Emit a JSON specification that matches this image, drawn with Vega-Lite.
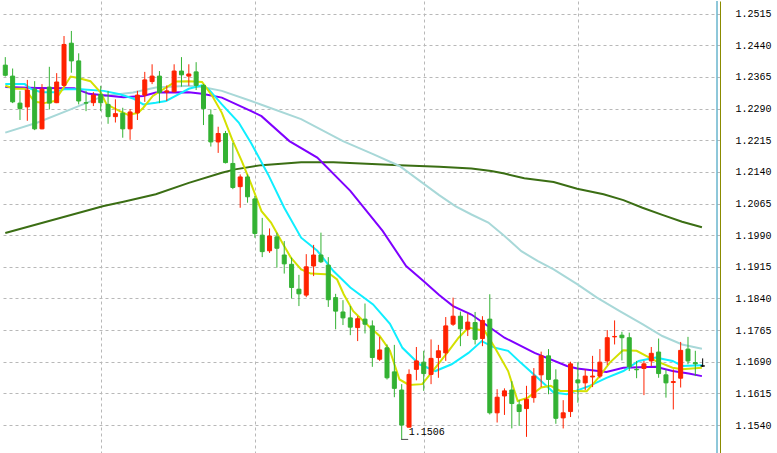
{
  "$schema": "https://vega.github.io/schema/vega-lite/v6.json",
  "width": 720,
  "height": 453,
  "padding": 0,
  "background": "#ffffff",
  "config": {"view": {"stroke": null}},
  "datasets": {
    "candles": [
      {"i":0,"o":1.2393,"h":1.2412,"l":1.2366,"c":1.2369},
      {"i":1,"o":1.2367,"h":1.2385,"l":1.2303,"c":1.2306},
      {"i":2,"o":1.2303,"h":1.2332,"l":1.2263,"c":1.2290},
      {"i":3,"o":1.2294,"h":1.2358,"l":1.2261,"c":1.2334},
      {"i":4,"o":1.2336,"h":1.2355,"l":1.2239,"c":1.2242},
      {"i":5,"o":1.2242,"h":1.2348,"l":1.2241,"c":1.2336},
      {"i":6,"o":1.2341,"h":1.2389,"l":1.2288,"c":1.2303},
      {"i":7,"o":1.2304,"h":1.2374,"l":1.2303,"c":1.2353},
      {"i":8,"o":1.2345,"h":1.2462,"l":1.2342,"c":1.2442},
      {"i":9,"o":1.2445,"h":1.2474,"l":1.2375,"c":1.2403},
      {"i":10,"o":1.2403,"h":1.2421,"l":1.2300,"c":1.2308},
      {"i":11,"o":1.2304,"h":1.2332,"l":1.2284,"c":1.2303},
      {"i":12,"o":1.2304,"h":1.2329,"l":1.2296,"c":1.2322},
      {"i":13,"o":1.2324,"h":1.2344,"l":1.2284,"c":1.2304},
      {"i":14,"o":1.2300,"h":1.2332,"l":1.2254,"c":1.2271},
      {"i":15,"o":1.2271,"h":1.2312,"l":1.2257,"c":1.2278},
      {"i":16,"o":1.2279,"h":1.2292,"l":1.2221,"c":1.2242},
      {"i":17,"o":1.2242,"h":1.2289,"l":1.2216,"c":1.2282},
      {"i":18,"o":1.2280,"h":1.2332,"l":1.2263,"c":1.2322},
      {"i":19,"o":1.2322,"h":1.2377,"l":1.2306,"c":1.2358},
      {"i":20,"o":1.2354,"h":1.2395,"l":1.2348,"c":1.2367},
      {"i":21,"o":1.2367,"h":1.2379,"l":1.2303,"c":1.2328},
      {"i":22,"o":1.2329,"h":1.2345,"l":1.2308,"c":1.2332},
      {"i":23,"o":1.2330,"h":1.2395,"l":1.2328,"c":1.2379},
      {"i":24,"o":1.2379,"h":1.2412,"l":1.2342,"c":1.2370},
      {"i":25,"o":1.2367,"h":1.2395,"l":1.2344,"c":1.2372},
      {"i":26,"o":1.2377,"h":1.2400,"l":1.2334,"c":1.2345},
      {"i":27,"o":1.2345,"h":1.2348,"l":1.2251,"c":1.2290},
      {"i":28,"o":1.2275,"h":1.2288,"l":1.2200,"c":1.2211},
      {"i":29,"o":1.2211,"h":1.2247,"l":1.2185,"c":1.2231},
      {"i":30,"o":1.2231,"h":1.2237,"l":1.2160,"c":1.2162},
      {"i":31,"o":1.2160,"h":1.2209,"l":1.2099,"c":1.2103},
      {"i":32,"o":1.2105,"h":1.2134,"l":1.2055,"c":1.2128},
      {"i":33,"o":1.2128,"h":1.2134,"l":1.2067,"c":1.2081},
      {"i":34,"o":1.2076,"h":1.2083,"l":1.1984,"c":1.1994},
      {"i":35,"o":1.1990,"h":1.2031,"l":1.1938,"c":1.1951},
      {"i":36,"o":1.1953,"h":1.2006,"l":1.1948,"c":1.1988},
      {"i":37,"o":1.1986,"h":1.1996,"l":1.1913,"c":1.1959},
      {"i":38,"o":1.1943,"h":1.1976,"l":1.1899,"c":1.1922},
      {"i":39,"o":1.1921,"h":1.1937,"l":1.1840,"c":1.1866},
      {"i":40,"o":1.1862,"h":1.1896,"l":1.1822,"c":1.1851},
      {"i":41,"o":1.1848,"h":1.1945,"l":1.1843,"c":1.1915},
      {"i":42,"o":1.1917,"h":1.1967,"l":1.1893,"c":1.1943},
      {"i":43,"o":1.1943,"h":1.1996,"l":1.1924,"c":1.1927},
      {"i":44,"o":1.1919,"h":1.1938,"l":1.1820,"c":1.1837},
      {"i":45,"o":1.1842,"h":1.1851,"l":1.1767,"c":1.1810},
      {"i":46,"o":1.1808,"h":1.1836,"l":1.1777,"c":1.1794},
      {"i":47,"o":1.1794,"h":1.1822,"l":1.1753,"c":1.1772},
      {"i":48,"o":1.1771,"h":1.1798,"l":1.1739,"c":1.1792},
      {"i":49,"o":1.1791,"h":1.1828,"l":1.1757,"c":1.1779},
      {"i":50,"o":1.1775,"h":1.1788,"l":1.1678,"c":1.1700},
      {"i":51,"o":1.1696,"h":1.1749,"l":1.1692,"c":1.1718},
      {"i":52,"o":1.1723,"h":1.1731,"l":1.1648,"c":1.1652},
      {"i":53,"o":1.1666,"h":1.1730,"l":1.1606,"c":1.1627},
      {"i":54,"o":1.1623,"h":1.1637,"l":1.1506,"c":1.1540},
      {"i":55,"o":1.1535,"h":1.1672,"l":1.1534,"c":1.1660},
      {"i":56,"o":1.1672,"h":1.1725,"l":1.1646,"c":1.1692},
      {"i":57,"o":1.1689,"h":1.1716,"l":1.1621,"c":1.1662},
      {"i":58,"o":1.1660,"h":1.1743,"l":1.1637,"c":1.1698},
      {"i":59,"o":1.1700,"h":1.1730,"l":1.1652,"c":1.1716},
      {"i":60,"o":1.1711,"h":1.1796,"l":1.1692,"c":1.1775},
      {"i":61,"o":1.1779,"h":1.1842,"l":1.1775,"c":1.1798},
      {"i":62,"o":1.1798,"h":1.1809,"l":1.1727,"c":1.1768},
      {"i":63,"o":1.1767,"h":1.1804,"l":1.1751,"c":1.1784},
      {"i":64,"o":1.1783,"h":1.1808,"l":1.1731,"c":1.1743},
      {"i":65,"o":1.1745,"h":1.1798,"l":1.1727,"c":1.1788},
      {"i":66,"o":1.1791,"h":1.1850,"l":1.1565,"c":1.1569},
      {"i":67,"o":1.1569,"h":1.1625,"l":1.1546,"c":1.1606},
      {"i":68,"o":1.1609,"h":1.1627,"l":1.1564,"c":1.1621},
      {"i":69,"o":1.1623,"h":1.1644,"l":1.1532,"c":1.1591},
      {"i":70,"o":1.1588,"h":1.1599,"l":1.1538,"c":1.1572},
      {"i":71,"o":1.1579,"h":1.1633,"l":1.1512,"c":1.1601},
      {"i":72,"o":1.1605,"h":1.1675,"l":1.1593,"c":1.1656},
      {"i":73,"o":1.1659,"h":1.1714,"l":1.1630,"c":1.1704},
      {"i":74,"o":1.1704,"h":1.1720,"l":1.1613,"c":1.1648},
      {"i":75,"o":1.1647,"h":1.1672,"l":1.1543,"c":1.1556},
      {"i":76,"o":1.1557,"h":1.1599,"l":1.1532,"c":1.1569},
      {"i":77,"o":1.1572,"h":1.1690,"l":1.1559,"c":1.1685},
      {"i":78,"o":1.1647,"h":1.1689,"l":1.1593,"c":1.1640},
      {"i":79,"o":1.1640,"h":1.1672,"l":1.1623,"c":1.1656},
      {"i":80,"o":1.1654,"h":1.1704,"l":1.1630,"c":1.1656},
      {"i":81,"o":1.1656,"h":1.1720,"l":1.1651,"c":1.1689},
      {"i":82,"o":1.1692,"h":1.1765,"l":1.1682,"c":1.1747},
      {"i":83,"o":1.1749,"h":1.1788,"l":1.1731,"c":1.1750},
      {"i":84,"o":1.1753,"h":1.1761,"l":1.1693,"c":1.1747},
      {"i":85,"o":1.1747,"h":1.1759,"l":1.1668,"c":1.1678},
      {"i":86,"o":1.1672,"h":1.1692,"l":1.1651,"c":1.1671},
      {"i":87,"o":1.1674,"h":1.1692,"l":1.1611,"c":1.1685},
      {"i":88,"o":1.1692,"h":1.1725,"l":1.1680,"c":1.1710},
      {"i":89,"o":1.1713,"h":1.1745,"l":1.1652,"c":1.1662},
      {"i":90,"o":1.1659,"h":1.1672,"l":1.1605,"c":1.1640},
      {"i":91,"o":1.1641,"h":1.1672,"l":1.1577,"c":1.1643},
      {"i":92,"o":1.1651,"h":1.1737,"l":1.1629,"c":1.1717},
      {"i":93,"o":1.1720,"h":1.1749,"l":1.1684,"c":1.1692},
      {"i":94,"o":1.1688,"h":1.1716,"l":1.1656,"c":1.1685},
      {"i":95,"o":1.1680,"h":1.1698,"l":1.1678,"c":1.1680}
    ],
    "lines": [
      {"s":"MA200","i":0,"v":1.1995},{"s":"MA200","i":13.4,"v":1.2059},{"s":"MA200","i":16.1,"v":1.2069},{"s":"MA200","i":20.5,"v":1.2087},{"s":"MA200","i":25,"v":1.2114},{"s":"MA200","i":29.5,"v":1.2138},{"s":"MA200","i":31.3,"v":1.2146},{"s":"MA200","i":34.9,"v":1.2156},{"s":"MA200","i":40.3,"v":1.2163},{"s":"MA200","i":44.7,"v":1.2163},{"s":"MA200","i":49.2,"v":1.2159},{"s":"MA200","i":53.7,"v":1.2156},{"s":"MA200","i":59.1,"v":1.2152},{"s":"MA200","i":63.5,"v":1.2148},{"s":"MA200","i":66.2,"v":1.2142},{"s":"MA200","i":68,"v":1.2136},{"s":"MA200","i":70.7,"v":1.2125},{"s":"MA200","i":74.7,"v":1.2116},{"s":"MA200","i":77.9,"v":1.2100},{"s":"MA200","i":81.5,"v":1.2087},{"s":"MA200","i":84.2,"v":1.2073},{"s":"MA200","i":86.8,"v":1.2055},{"s":"MA200","i":89.5,"v":1.2038},{"s":"MA200","i":92.2,"v":1.2022},{"s":"MA200","i":94.9,"v":1.2009},
      {"s":"MA100","i":0,"v":1.2233},{"s":"MA100","i":4.4,"v":1.2257},{"s":"MA100","i":8.9,"v":1.2288},{"s":"MA100","i":13.4,"v":1.2320},{"s":"MA100","i":17.4,"v":1.2328},{"s":"MA100","i":20.5,"v":1.2340},{"s":"MA100","i":25,"v":1.2344},{"s":"MA100","i":27.2,"v":1.2340},{"s":"MA100","i":29.5,"v":1.2332},{"s":"MA100","i":33.5,"v":1.2308},{"s":"MA100","i":34.9,"v":1.2299},{"s":"MA100","i":40.3,"v":1.2265},{"s":"MA100","i":46,"v":1.2213},{"s":"MA100","i":50.1,"v":1.2182},{"s":"MA100","i":53.7,"v":1.2154},{"s":"MA100","i":59.1,"v":1.2085},{"s":"MA100","i":61.3,"v":1.2059},{"s":"MA100","i":63.5,"v":1.2039},{"s":"MA100","i":65.8,"v":1.2020},{"s":"MA100","i":68,"v":1.1988},{"s":"MA100","i":70.3,"v":1.1952},{"s":"MA100","i":72.5,"v":1.1929},{"s":"MA100","i":74.7,"v":1.1909},{"s":"MA100","i":77.9,"v":1.1874},{"s":"MA100","i":80.6,"v":1.1842},{"s":"MA100","i":83.7,"v":1.1810},{"s":"MA100","i":86.8,"v":1.1779},{"s":"MA100","i":89.5,"v":1.1751},{"s":"MA100","i":92.2,"v":1.1731},{"s":"MA100","i":94.9,"v":1.1721},
      {"s":"MA50","i":0,"v":1.2341},{"s":"MA50","i":4.4,"v":1.2339},{"s":"MA50","i":9.4,"v":1.2338},{"s":"MA50","i":11.4,"v":1.2325},{"s":"MA50","i":16.1,"v":1.2317},{"s":"MA50","i":18.8,"v":1.2320},{"s":"MA50","i":20.5,"v":1.2328},{"s":"MA50","i":25,"v":1.2329},{"s":"MA50","i":26.8,"v":1.2325},{"s":"MA50","i":29.5,"v":1.2316},{"s":"MA50","i":33.5,"v":1.2284},{"s":"MA50","i":34.9,"v":1.2272},{"s":"MA50","i":38.7,"v":1.2213},{"s":"MA50","i":42.5,"v":1.2174},{"s":"MA50","i":47,"v":1.2095},{"s":"MA50","i":51.4,"v":1.2000},{"s":"MA50","i":54.6,"v":1.1917},{"s":"MA50","i":57,"v":1.1881},{"s":"MA50","i":59.1,"v":1.1848},{"s":"MA50","i":61,"v":1.1822},{"s":"MA50","i":63.5,"v":1.1802},{"s":"MA50","i":66.7,"v":1.1763},{"s":"MA50","i":68,"v":1.1747},{"s":"MA50","i":72.1,"v":1.1711},{"s":"MA50","i":76.5,"v":1.1680},{"s":"MA50","i":77.9,"v":1.1674},{"s":"MA50","i":81.9,"v":1.1666},{"s":"MA50","i":84.2,"v":1.1676},{"s":"MA50","i":88.6,"v":1.1678},{"s":"MA50","i":90.9,"v":1.1668},{"s":"MA50","i":93.1,"v":1.1662},{"s":"MA50","i":94.9,"v":1.1656},
      {"s":"MA10","i":0,"v":1.2348},{"s":"MA10","i":2.65,"v":1.2348},{"s":"MA10","i":3.55,"v":1.2336},{"s":"MA10","i":4.9,"v":1.2329},{"s":"MA10","i":6.7,"v":1.2329},{"s":"MA10","i":8,"v":1.2336},{"s":"MA10","i":10.3,"v":1.2336},{"s":"MA10","i":13.4,"v":1.2332},{"s":"MA10","i":15.6,"v":1.2324},{"s":"MA10","i":17.4,"v":1.2314},{"s":"MA10","i":18.8,"v":1.2300},{"s":"MA10","i":20.5,"v":1.2304},{"s":"MA10","i":21.9,"v":1.2308},{"s":"MA10","i":23.2,"v":1.2320},{"s":"MA10","i":25,"v":1.2337},{"s":"MA10","i":26.8,"v":1.2345},{"s":"MA10","i":27.7,"v":1.2336},{"s":"MA10","i":29.5,"v":1.2300},{"s":"MA10","i":31.8,"v":1.2257},{"s":"MA10","i":33.5,"v":1.2208},{"s":"MA10","i":35.8,"v":1.2134},{"s":"MA10","i":38,"v":1.2055},{"s":"MA10","i":40.3,"v":1.1984},{"s":"MA10","i":42.5,"v":1.1953},{"s":"MA10","i":44.7,"v":1.1905},{"s":"MA10","i":47,"v":1.1866},{"s":"MA10","i":50.1,"v":1.1826},{"s":"MA10","i":52.4,"v":1.1780},{"s":"MA10","i":54.1,"v":1.1723},{"s":"MA10","i":56.4,"v":1.1684},{"s":"MA10","i":58.6,"v":1.1668},{"s":"MA10","i":60.8,"v":1.1684},{"s":"MA10","i":63.1,"v":1.1711},{"s":"MA10","i":64.9,"v":1.1739},{"s":"MA10","i":66.7,"v":1.1723},{"s":"MA10","i":68.5,"v":1.1716},{"s":"MA10","i":70.2,"v":1.1688},{"s":"MA10","i":72.5,"v":1.1652},{"s":"MA10","i":74.7,"v":1.1617},{"s":"MA10","i":76.5,"v":1.1613},{"s":"MA10","i":79.6,"v":1.1633},{"s":"MA10","i":81.9,"v":1.1652},{"s":"MA10","i":84.2,"v":1.1668},{"s":"MA10","i":86.3,"v":1.1692},{"s":"MA10","i":88.6,"v":1.1700},{"s":"MA10","i":90.9,"v":1.1692},{"s":"MA10","i":92.2,"v":1.1680},{"s":"MA10","i":94.9,"v":1.1682},
      {"s":"MA5","i":0,"v":1.2344},{"s":"MA5","i":1.3,"v":1.2337},{"s":"MA5","i":2.65,"v":1.2337},{"s":"MA5","i":4,"v":1.2306},{"s":"MA5","i":5.3,"v":1.2303},{"s":"MA5","i":6.7,"v":1.2308},{"s":"MA5","i":7.8,"v":1.2336},{"s":"MA5","i":8.9,"v":1.2366},{"s":"MA5","i":9.8,"v":1.2363},{"s":"MA5","i":11.6,"v":1.2355},{"s":"MA5","i":13,"v":1.2328},{"s":"MA5","i":13.8,"v":1.2300},{"s":"MA5","i":15.6,"v":1.2284},{"s":"MA5","i":16.75,"v":1.2275},{"s":"MA5","i":18.1,"v":1.2280},{"s":"MA5","i":18.8,"v":1.2292},{"s":"MA5","i":20.1,"v":1.2320},{"s":"MA5","i":21.9,"v":1.2340},{"s":"MA5","i":23.2,"v":1.2354},{"s":"MA5","i":25,"v":1.2355},{"s":"MA5","i":26.8,"v":1.2353},{"s":"MA5","i":28.2,"v":1.2320},{"s":"MA5","i":29.5,"v":1.2280},{"s":"MA5","i":30.9,"v":1.2217},{"s":"MA5","i":32.2,"v":1.2166},{"s":"MA5","i":33.5,"v":1.2111},{"s":"MA5","i":34.9,"v":1.2047},{"s":"MA5","i":36.2,"v":1.2020},{"s":"MA5","i":37.6,"v":1.1976},{"s":"MA5","i":38.9,"v":1.1937},{"s":"MA5","i":40.3,"v":1.1909},{"s":"MA5","i":41.6,"v":1.1899},{"s":"MA5","i":44.3,"v":1.1897},{"s":"MA5","i":45.2,"v":1.1885},{"s":"MA5","i":46.1,"v":1.1850},{"s":"MA5","i":47.4,"v":1.1810},{"s":"MA5","i":49.7,"v":1.1771},{"s":"MA5","i":51,"v":1.1751},{"s":"MA5","i":52.4,"v":1.1716},{"s":"MA5","i":53.7,"v":1.1648},{"s":"MA5","i":55,"v":1.1635},{"s":"MA5","i":56.8,"v":1.1637},{"s":"MA5","i":58.6,"v":1.1676},{"s":"MA5","i":60.4,"v":1.1716},{"s":"MA5","i":61.75,"v":1.1747},{"s":"MA5","i":63.1,"v":1.1771},{"s":"MA5","i":65.3,"v":1.1763},{"s":"MA5","i":66.7,"v":1.1723},{"s":"MA5","i":68.5,"v":1.1668},{"s":"MA5","i":69.8,"v":1.1597},{"s":"MA5","i":71.2,"v":1.1605},{"s":"MA5","i":73,"v":1.1629},{"s":"MA5","i":74.3,"v":1.1633},{"s":"MA5","i":75.6,"v":1.1621},{"s":"MA5","i":77.4,"v":1.1621},{"s":"MA5","i":79.2,"v":1.1620},{"s":"MA5","i":80.6,"v":1.1648},{"s":"MA5","i":82.35,"v":1.1688},{"s":"MA5","i":84.15,"v":1.1717},{"s":"MA5","i":86,"v":1.1716},{"s":"MA5","i":87.3,"v":1.1704},{"s":"MA5","i":88.6,"v":1.1692},{"s":"MA5","i":90.9,"v":1.1676},{"s":"MA5","i":92.2,"v":1.1672},{"s":"MA5","i":94.9,"v":1.1676}
    ],
    "low": [{"i":54,"v":1.1506,"label":"1.1506"}]
  },
  "layer": [
    {
      "data": {"name": "lines"},
      "mark": {"type": "line", "strokeWidth": 2, "clip": true},
      "encoding": {
        "x": {"field": "i", "type": "quantitative", "title": null, "scale": {"domain": [-0.04, 96.68], "nice": false, "zero": false},
              "axis": {"values": [13, 34, 57, 78], "labels": false, "ticks": false, "domain": false, "title": null, "grid": true, "gridDash": [3, 3], "gridColor": "#b8b8b8", "gridWidth": 1}},
        "y": {"field": "v", "type": "quantitative", "title": null, "scale": {"domain": [1.14714, 1.2545], "nice": false, "zero": false},
              "axis": {"orient": "right", "values": [1.1465, 1.154, 1.1615, 1.169, 1.1765, 1.184, 1.1915, 1.199, 1.2065, 1.214, 1.2215, 1.229, 1.2365, 1.244, 1.2515],
                       "format": ".4f", "title": null, "ticks": false, "labelPadding": 15, "labelFont": "Liberation Mono", "labelFontSize": 10, "labelColor": "#000000",
                       "labelBaseline": "middle", "labelAlign": "left", "grid": true, "gridDash": [3, 3], "gridColor": "#b8b8b8", "gridWidth": 1,
                       "domainColor": "#8b8b00", "domainWidth": 1, "labelOverlap": false}},
        "color": {"field": "s", "type": "nominal", "legend": null,
                  "scale": {"domain": ["MA200", "MA100", "MA50", "MA10", "MA5"], "range": ["#3b6e14", "#a8d8d8", "#7f00ff", "#10eeff", "#d4e000"]}},
        "order": {"field": "i", "type": "quantitative"}
      }
    },
    {
      "data": {"name": "candles"},
      "mark": {"type": "rule", "strokeWidth": 1, "clip": true},
      "encoding": {
        "x": {"field": "i", "type": "quantitative", "title": null, "scale": {"domain": [-0.04, 96.68], "nice": false, "zero": false},
              "axis": {"values": [13, 34, 57, 78], "labels": false, "ticks": false, "domain": false, "title": null, "grid": true, "gridDash": [3, 3], "gridColor": "#b8b8b8", "gridWidth": 1}},
        "y": {"field": "h", "type": "quantitative", "title": null, "scale": {"domain": [1.14714, 1.2545], "nice": false, "zero": false},
              "axis": {"orient": "right", "values": [1.1465, 1.154, 1.1615, 1.169, 1.1765, 1.184, 1.1915, 1.199, 1.2065, 1.214, 1.2215, 1.229, 1.2365, 1.244, 1.2515],
                       "format": ".4f", "title": null, "ticks": false, "labelPadding": 15, "labelFont": "Liberation Mono", "labelFontSize": 10, "labelColor": "#000000",
                       "labelBaseline": "middle", "labelAlign": "left", "grid": true, "gridDash": [3, 3], "gridColor": "#b8b8b8", "gridWidth": 1,
                       "domainColor": "#8b8b00", "domainWidth": 1, "labelOverlap": false}},
        "y2": {"field": "l"},
        "color": {"condition": [{"test": "datum.c > datum.o", "value": "#ff2200"}, {"test": "datum.c < datum.o", "value": "#33b233"}], "value": "#000000"}
      }
    },
    {
      "data": {"name": "candles"},
      "mark": {"type": "bar", "size": 4, "strokeWidth": 1, "clip": true},
      "encoding": {
        "x": {"field": "i", "type": "quantitative", "title": null, "scale": {"domain": [-0.04, 96.68], "nice": false, "zero": false},
              "axis": {"values": [13, 34, 57, 78], "labels": false, "ticks": false, "domain": false, "title": null, "grid": true, "gridDash": [3, 3], "gridColor": "#b8b8b8", "gridWidth": 1}},
        "y": {"field": "o", "type": "quantitative", "title": null, "scale": {"domain": [1.14714, 1.2545], "nice": false, "zero": false},
              "axis": {"orient": "right", "values": [1.1465, 1.154, 1.1615, 1.169, 1.1765, 1.184, 1.1915, 1.199, 1.2065, 1.214, 1.2215, 1.229, 1.2365, 1.244, 1.2515],
                       "format": ".4f", "title": null, "ticks": false, "labelPadding": 15, "labelFont": "Liberation Mono", "labelFontSize": 10, "labelColor": "#000000",
                       "labelBaseline": "middle", "labelAlign": "left", "grid": true, "gridDash": [3, 3], "gridColor": "#b8b8b8", "gridWidth": 1,
                       "domainColor": "#8b8b00", "domainWidth": 1, "labelOverlap": false}},
        "y2": {"field": "c"},
        "fill": {"condition": [{"test": "datum.c > datum.o", "value": "#ff2200"}, {"test": "datum.c < datum.o", "value": "#33b233"}], "value": "#000000"},
        "stroke": {"condition": [{"test": "datum.c > datum.o", "value": "#ff2200"}, {"test": "datum.c < datum.o", "value": "#33b233"}], "value": "#000000"}
      }
    },
    {
      "data": {"name": "low"},
      "mark": {"type": "tick", "orient": "horizontal", "size": 7, "thickness": 1, "color": "#000000", "xOffset": 3},
      "encoding": {
        "x": {"field": "i", "type": "quantitative", "title": null, "scale": {"domain": [-0.04, 96.68], "nice": false, "zero": false},
              "axis": {"values": [13, 34, 57, 78], "labels": false, "ticks": false, "domain": false, "title": null, "grid": true, "gridDash": [3, 3], "gridColor": "#b8b8b8", "gridWidth": 1}},
        "y": {"field": "v", "type": "quantitative", "title": null, "scale": {"domain": [1.14714, 1.2545], "nice": false, "zero": false},
              "axis": {"orient": "right", "values": [1.1465, 1.154, 1.1615, 1.169, 1.1765, 1.184, 1.1915, 1.199, 1.2065, 1.214, 1.2215, 1.229, 1.2365, 1.244, 1.2515],
                       "format": ".4f", "title": null, "ticks": false, "labelPadding": 15, "labelFont": "Liberation Mono", "labelFontSize": 10, "labelColor": "#000000",
                       "labelBaseline": "middle", "labelAlign": "left", "grid": true, "gridDash": [3, 3], "gridColor": "#b8b8b8", "gridWidth": 1,
                       "domainColor": "#8b8b00", "domainWidth": 1, "labelOverlap": false}}
      }
    },
    {
      "data": {"name": "low"},
      "mark": {"type": "text", "align": "left", "baseline": "middle", "dx": 7, "dy": -7, "font": "Liberation Mono", "fontSize": 10, "color": "#000000"},
      "encoding": {
        "x": {"field": "i", "type": "quantitative", "title": null, "scale": {"domain": [-0.04, 96.68], "nice": false, "zero": false},
              "axis": {"values": [13, 34, 57, 78], "labels": false, "ticks": false, "domain": false, "title": null, "grid": true, "gridDash": [3, 3], "gridColor": "#b8b8b8", "gridWidth": 1}},
        "y": {"field": "v", "type": "quantitative", "title": null, "scale": {"domain": [1.14714, 1.2545], "nice": false, "zero": false},
              "axis": {"orient": "right", "values": [1.1465, 1.154, 1.1615, 1.169, 1.1765, 1.184, 1.1915, 1.199, 1.2065, 1.214, 1.2215, 1.229, 1.2365, 1.244, 1.2515],
                       "format": ".4f", "title": null, "ticks": false, "labelPadding": 15, "labelFont": "Liberation Mono", "labelFontSize": 10, "labelColor": "#000000",
                       "labelBaseline": "middle", "labelAlign": "left", "grid": true, "gridDash": [3, 3], "gridColor": "#b8b8b8", "gridWidth": 1,
                       "domainColor": "#8b8b00", "domainWidth": 1, "labelOverlap": false}},
        "text": {"field": "label"}
      }
    },
    {
      "data": {"name": "low"},
      "mark": {"type": "rule", "color": "#1e90b4", "strokeWidth": 1, "xOffset": 2},
      "encoding": {
        "x": {"datum": 96.68, "type": "quantitative", "title": null, "scale": {"domain": [-0.04, 96.68], "nice": false, "zero": false},
              "axis": {"values": [13, 34, 57, 78], "labels": false, "ticks": false, "domain": false, "title": null, "grid": true, "gridDash": [3, 3], "gridColor": "#b8b8b8", "gridWidth": 1}}
      }
    }
  ]
}
